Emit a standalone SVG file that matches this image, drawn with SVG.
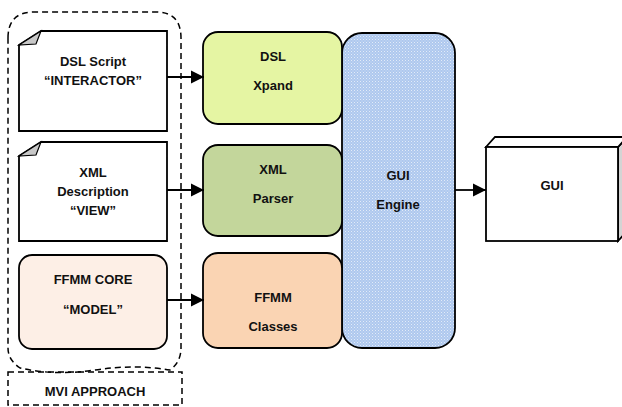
<svg xmlns="http://www.w3.org/2000/svg" width="622" height="407" viewBox="0 0 622 407">
  <style>
    .lbl { font-family: "Liberation Sans", Arial, sans-serif; font-weight: bold; font-size: 13px; fill: #111; text-anchor: middle; }
    .box { stroke: #000; stroke-width: 1.8; }
    .dash { fill: none; stroke: #000; stroke-width: 1.5; stroke-dasharray: 6 4; }
    .conn { stroke: #000; stroke-width: 1.8; fill: none; marker-end: url(#arrow); }
    .fold { fill: #c8c8c8; stroke: #000; stroke-width: 1.2; }
  </style>
  <defs>
    <marker id="arrow" markerUnits="userSpaceOnUse" markerWidth="14" markerHeight="14" refX="13" refY="7" orient="auto">
      <path d="M0,0.5 L13,7 L0,13.5 Z" fill="#000"/>
    </marker>
    <pattern id="dots" width="3" height="3" patternUnits="userSpaceOnUse">
      <rect width="3" height="3" fill="#aec8ee"/>
      <rect x="0" y="0" width="1" height="1" fill="#e2ebf8"/>
      <rect x="1.5" y="1.5" width="1" height="1" fill="#d3e1f6"/>
    </pattern>
  </defs>

  <!-- MVI grouping frame -->
  <g id="mvi-frame">
    <path class="dash" d="M8,38 Q8,12 34,12 H156 Q181,12 181,38 V348 Q181,362 170,370 Q135,364 95,370 Q55,376 20,368 Q8,360 8,348 Z"/>
    <rect class="dash" x="8" y="372" width="174" height="33"/>
    <text class="lbl" x="95" y="396">MVI APPROACH</text>
  </g>

  <!-- source documents -->
  <g id="dsl-script">
    <path class="box" fill="#fff" d="M19,45 L41,31 H167 V131 H19 Z"/>
    <path class="fold" d="M19,45 L41,31 L36,44 Z"/>
    <text class="lbl" x="93" y="66">DSL Script</text>
    <text class="lbl" x="93" y="85">“INTERACTOR”</text>
  </g>
  <g id="xml-description">
    <path class="box" fill="#fff" d="M19,156 L41,142 H167 V241 H19 Z"/>
    <path class="fold" d="M19,156 L41,142 L36,155 Z"/>
    <text class="lbl" x="93" y="177">XML</text>
    <text class="lbl" x="93" y="196">Description</text>
    <text class="lbl" x="93" y="215">“VIEW”</text>
  </g>
  <g id="ffmm-core">
    <rect class="box" x="19" y="255" width="148" height="94" rx="13" fill="#fdefe6"/>
    <text class="lbl" x="93" y="284">FFMM CORE</text>
    <text class="lbl" x="93" y="314">“MODEL”</text>
  </g>

  <!-- processing blocks -->
  <g id="gui-engine">
    <rect class="box" x="342" y="33" width="113" height="315" rx="20" fill="url(#dots)"/>
    <text class="lbl" x="398" y="180">GUI</text>
    <text class="lbl" x="398" y="209">Engine</text>
  </g>
  <g id="dsl-xpand">
    <rect class="box" x="203" y="32" width="139" height="92" rx="15" fill="#e5f5a3"/>
    <text class="lbl" x="273" y="61">DSL</text>
    <text class="lbl" x="273" y="90">Xpand</text>
  </g>
  <g id="xml-parser">
    <rect class="box" x="203" y="145" width="139" height="91" rx="15" fill="#c3d69b"/>
    <text class="lbl" x="273" y="174">XML</text>
    <text class="lbl" x="273" y="203">Parser</text>
  </g>
  <g id="ffmm-classes">
    <rect class="box" x="203" y="253" width="139" height="95" rx="15" fill="#fad4b3"/>
    <text class="lbl" x="273" y="302">FFMM</text>
    <text class="lbl" x="273" y="331">Classes</text>
  </g>

  <!-- output cube -->
  <g id="gui">
    <path class="box" fill="#d4d4d4" d="M618,147 L627,137 V231 L618,241 Z"/>
    <path class="box" fill="#fff" d="M486,147 L495,137 H627 L618,147 Z"/>
    <rect class="box" x="486" y="147" width="132" height="94" fill="#fff"/>
    <text class="lbl" x="552" y="190">GUI</text>
  </g>

  <!-- connectors -->
  <g id="connectors">
    <line class="conn" x1="167" y1="77" x2="204" y2="77"/>
    <line class="conn" x1="167" y1="190" x2="204" y2="190"/>
    <line class="conn" x1="167" y1="300" x2="204" y2="300"/>
    <line class="conn" x1="455" y1="190" x2="486" y2="190"/>
  </g>
</svg>
